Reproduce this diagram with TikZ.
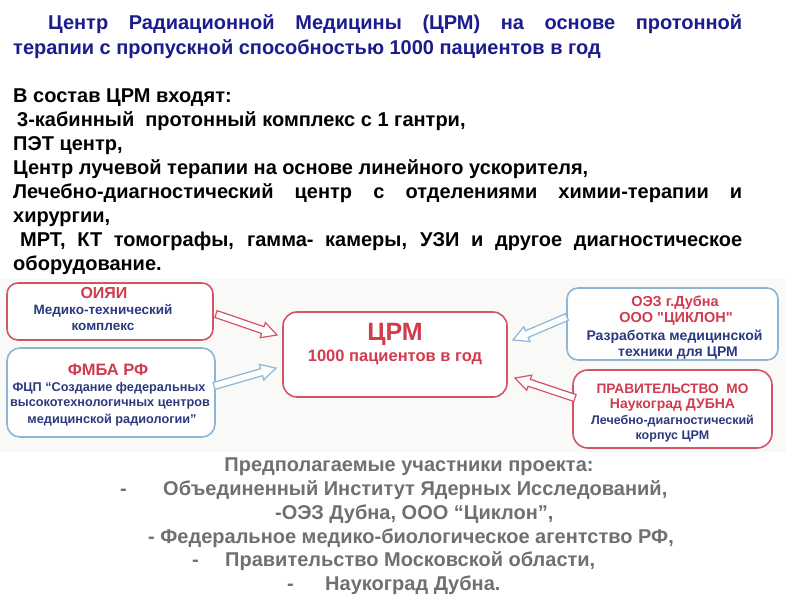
\documentclass[tikz,border=0pt]{standalone}
\usepackage{fontspec}
\setmainfont{Liberation Sans}
\newfontfamily\plainquotefont{Liberation Sans}
\usetikzlibrary{calc}
\definecolor{titlenavy}{HTML}{1C1C8E}
\definecolor{boxnavy}{HTML}{2B3A7E}
\definecolor{boxred}{HTML}{D03C4E}
\definecolor{redline}{HTML}{D45466}
\definecolor{blueline}{HTML}{8DB6D6}
\definecolor{greytext}{HTML}{707070}
\definecolor{diagbg}{HTML}{F9F9F7}
% hollow block arrow from named coordinate #1 (tail) to #2 (tip), colour #3
\newcommand\blkarrow[3]{%
  \coordinate (neck) at ($(#2)!15pt!(#1)$);
  \draw[blockarrowline, draw=#3]
    ($(#1)!3.6pt!90:(#2)$) -- ($(neck)!3.6pt!-90:(#1)$) -- ($(neck)!8pt!-90:(#1)$) -- (#2)
    -- ($(neck)!8pt!90:(#1)$) -- ($(neck)!3.6pt!90:(#1)$) -- ($(#1)!3.6pt!-90:(#2)$) -- cycle;}
\newcommand\fsz[1]{\fontsize{#1}{#1}\selectfont}
\begin{document}
\begin{tikzpicture}[x=1pt,y=-1pt,
  toptext/.style={anchor=base west, inner sep=0pt, font=\bfseries\fontsize{20}{24}\selectfont},
  bottomtext/.style={anchor=base west, inner sep=0pt, text=greytext, font=\bfseries\fontsize{20}{24}\selectfont},
  diagbox/.style={draw, line width=1.6pt, fill=white},
  redbox/.style={diagbox, draw=redline},
  bluebox/.style={diagbox, draw=blueline},
  rtxt/.style={inner sep=0pt, text=boxred, font=\bfseries},
  ntxt/.style={inner sep=0pt, text=boxnavy, font=\bfseries},
  blockarrowline/.style={fill=white, line width=1.2pt, line join=miter}
]
\useasboundingbox[fill=white] (0,0) rectangle (800,600);
% top text
\node[toptext, text=titlenavy] (t1) at (48,29) {\makebox[694pt][s]{Центр Радиационной Медицины (ЦРМ) на основе протонной}};
\node[toptext, text=titlenavy] (t2) at (13,54) {терапии с пропускной способностью 1000 пациентов в год};
\node[toptext] (t3) at (13,102) {В состав ЦРМ входят:};
\node[toptext] (t4) at (17,126) {3-кабинный\ \ протонный комплекс с 1 гантри,};
\node[toptext] (t5) at (13,150) {ПЭТ центр,};
\node[toptext] (t6) at (13,174) {Центр лучевой терапии на основе линейного ускорителя,};
\node[toptext] (t7) at (13,198) {\makebox[729pt][s]{Лечебно-диагностический центр с отделениями химии-терапии и}};
\node[toptext] (t8) at (13,222) {хирургии,};
\node[toptext] (t9) at (20,246) {\makebox[722pt][s]{МРТ, КТ томографы, гамма- камеры, УЗИ и другое диагностическое}};
\node[toptext] (t10) at (13,270) {оборудование.};
% diagram background
\fill[diagbg] (0,279) rectangle (786,452);
% boxes
\node[redbox, rounded corners=11pt, minimum width=206pt, minimum height=57pt] (oiyai) at (110,311.5) {};
\node[rtxt, font=\bfseries\fsz{16}] (oiyai1) at (104,293) {ОИЯИ};
\node[ntxt, font=\bfseries\fsz{13.5}] (oiyai2) at (103,311) {Медико-технический};
\node[ntxt, font=\bfseries\fsz{13.5}] (oiyai3) at (103,327) {комплекс};

\node[bluebox, rounded corners=13pt, minimum width=208pt, minimum height=89pt] (fmba) at (111,392.5) {};
\node[rtxt, font=\bfseries\fsz{16.5}] (fmba1) at (108,370) {ФМБА РФ};
\node[ntxt, font=\bfseries\fsz{12.7}] (fmba2) at (109,388) {ФЦП “Создание федеральных};
\node[ntxt, font=\bfseries\fsz{12.7}] (fmba3) at (110,404) {высокотехнологичных центров};
\node[ntxt, font=\bfseries\fsz{12.7}] (fmba4) at (112,420) {медицинской радиологии”};

\node[redbox, rounded corners=14pt, minimum width=224pt, minimum height=85pt] (crm) at (395,354.5) {};
\node[rtxt, font=\bfseries\fsz{25}] (crm1) at (395,334) {ЦРМ};
\node[rtxt, font=\bfseries\fsz{16.5}] (crm2) at (395,357) {1000 пациентов в год};

\node[bluebox, rounded corners=11pt, minimum width=211pt, minimum height=72pt] (oez) at (672.5,324) {};
\node[rtxt, font=\bfseries\fsz{14.5}] (oez1) at (675,303) {ОЭЗ г.Дубна};
\node[rtxt, font=\plainquotefont\bfseries\fsz{14.5}] (oez2) at (676,319) {ООО "ЦИКЛОН"};
\node[ntxt, font=\bfseries\fsz{14}] (oez3) at (674.5,337) {Разработка медицинской};
\node[ntxt, font=\bfseries\fsz{14}] (oez4) at (678,353) {техники для ЦРМ};

\node[redbox, rounded corners=15pt, minimum width=199pt, minimum height=78pt] (pravmo) at (672.5,409) {};
\node[rtxt, font=\bfseries\fsz{13.7}] (pravmo1) at (672.5,389) {ПРАВИТЕЛЬСТВО\ \ МО};
\node[rtxt, font=\bfseries\fsz{14}] (pravmo2) at (672.5,405) {Наукоград ДУБНА};
\node[ntxt, font=\bfseries\fsz{12.5}] (pravmo3) at (672.5,421) {Лечебно-диагностический};
\node[ntxt, font=\bfseries\fsz{12.5}] (pravmo4) at (672.5,436) {корпус ЦРМ};
% arrow ends
\coordinate (a1s) at (216,314); \coordinate (a1e) at (277,335);
\coordinate (a2s) at (214,386); \coordinate (a2e) at (276,368);
\coordinate (a3s) at (567,317); \coordinate (a3e) at (513,340);
\coordinate (a4s) at (575,398); \coordinate (a4e) at (515,378);
\blkarrow{a1s}{a1e}{redline}
\blkarrow{a2s}{a2e}{blueline}
\blkarrow{a3s}{a3e}{blueline}
\blkarrow{a4s}{a4e}{redline}
% bottom text
\node[bottomtext, anchor=base] (b1) at (409,471) {Предполагаемые участники проекта:};
\node[bottomtext] (b2d) at (120,495) {-};
\node[bottomtext] (b2) at (163,495) {Объединенный Институт Ядерных Исследований,};
\node[bottomtext] (b3) at (275,519) {-ОЭЗ Дубна, ООО “Циклон”,};
\node[bottomtext] (b4) at (148,543) {- Федеральное медико-биологическое агентство РФ,};
\node[bottomtext] (b5d) at (192,566) {-};
\node[bottomtext] (b5) at (225,566) {Правительство Московской области,};
\node[bottomtext] (b6d) at (287,590) {-};
\node[bottomtext] (b6) at (325,590) {Наукоград Дубна.};
\end{tikzpicture}
\end{document}
